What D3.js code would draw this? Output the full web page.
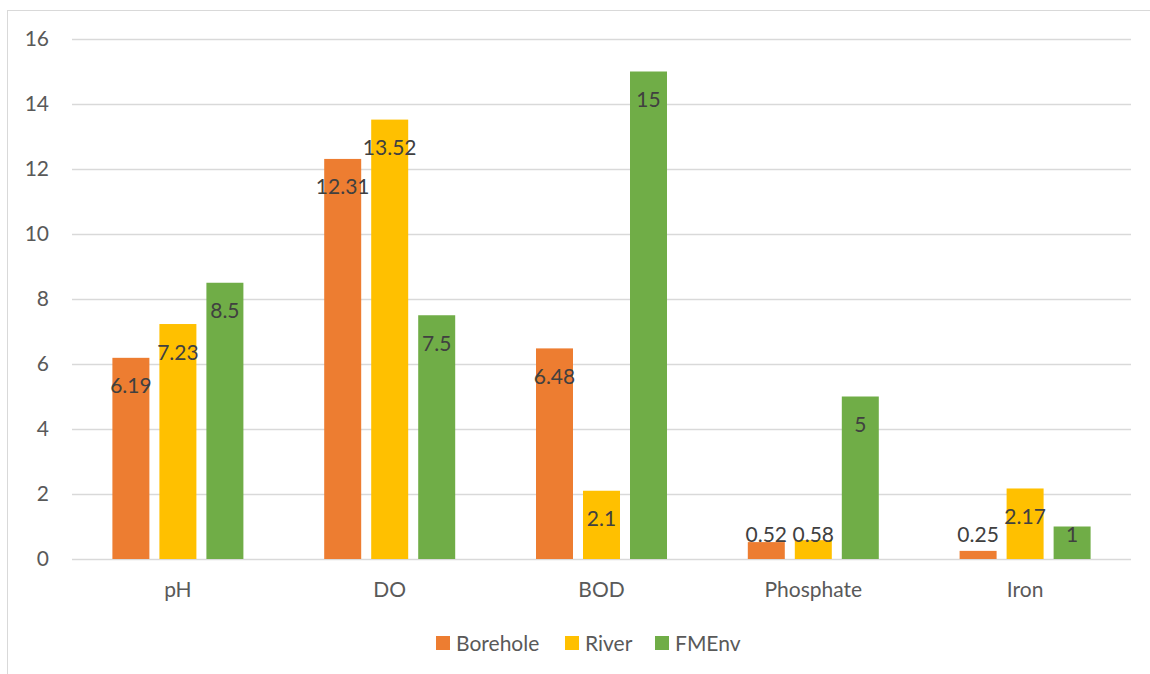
<!DOCTYPE html>
<html>
<head>
<meta charset="utf-8">
<script src="https://cdn.jsdelivr.net/npm/d3@7"></script>
<style>
  html, body { margin: 0; padding: 0; background: #fff; }
  svg { display: block; font-family: Lato, "Open Sans", sans-serif; }
</style>
</head>
<body>
<svg id="chart" width="1150" height="674"></svg>
<script>
// Water quality parameters compared against the FMEnv limits
const categories = ["pH", "DO", "BOD", "Phosphate", "Iron"];
const seriesNames = ["Borehole", "River", "FMEnv"];
const borehole = [6.19, 12.31, 6.48, 0.52, 0.25];
const river = [7.23, 13.52, 2.1, 0.58, 2.17];
const fmenv = [8.5, 7.5, 15, 5, 1];
const yTicks = [0, 2, 4, 6, 8, 10, 12, 14, 16];

const seriesValues = [borehole, river, fmenv];
const colors = ["#ED7D31", "#FFC000", "#70AD47"];

const svg = d3.select("#chart");
const plot = { left: 72, right: 1131, top: 39, bottom: 559 };

// outer frame
svg.append("rect")
  .attr("x", 7.5).attr("y", 10.5)
  .attr("width", 1200).attr("height", 800)
  .attr("fill", "none").attr("stroke", "#d9d9d9").attr("stroke-width", 1);

const y = d3.scaleLinear().domain([0, 16]).range([plot.bottom, plot.top]);
const x0 = d3.scaleBand().domain(categories).range([plot.left, plot.right]).padding(0);
const groupW = 131;
const x1 = d3.scaleBand().domain(seriesNames)
  .range([(x0.bandwidth() - groupW) / 2, (x0.bandwidth() + groupW) / 2])
  .paddingInner(0.213).paddingOuter(0);

// gridlines
svg.append("g").selectAll("line").data(yTicks).join("line")
  .attr("x1", plot.left).attr("x2", plot.right)
  .attr("y1", d => Math.round(y(d)) + 0.5).attr("y2", d => Math.round(y(d)) + 0.5)
  .attr("stroke", "#d9d9d9").attr("stroke-width", 1.5);

// y axis labels
const yAxis = svg.append("g")
  .attr("transform", `translate(49,0)`)
  .call(d3.axisLeft(y).tickValues(yTicks).tickSize(0).tickPadding(0));
yAxis.select(".domain").remove();
yAxis.selectAll("text")
  .attr("font-family", "Lato, sans-serif").attr("font-size", 21).attr("fill", "#595959");

// x axis labels
const xAxis = svg.append("g")
  .attr("transform", `translate(0,${plot.bottom + 23})`)
  .call(d3.axisBottom(x0).tickSize(0).tickPadding(0));
xAxis.select(".domain").remove();
xAxis.selectAll("text")
  .attr("font-family", "Lato, sans-serif").attr("font-size", 21).attr("fill", "#595959");

// bars
const rows = [];
categories.forEach((c, ci) => {
  seriesNames.forEach((s, si) => {
    rows.push({ cat: c, series: s, si, value: seriesValues[si][ci] });
  });
});

const groups = svg.append("g");
groups.selectAll("rect").data(rows).join("rect")
  .attr("x", d => x0(d.cat) + x1(d.series))
  .attr("y", d => y(d.value))
  .attr("width", x1.bandwidth())
  .attr("height", d => y(0) - y(d.value))
  .attr("fill", d => colors[d.si]);

// value labels: inside end, kept clear of the baseline for short bars
groups.selectAll("text").data(rows).join("text")
  .attr("x", d => x0(d.cat) + x1(d.series) + x1.bandwidth() / 2)
  .attr("y", d => Math.min(y(d.value) + 28, y(0) - 25))
  .attr("dy", "0.36em")
  .attr("text-anchor", "middle")
  .attr("font-size", 21)
  .attr("fill", "#404040")
  .text(d => d.value);

// legend
const legendItems = [
  { name: "Borehole", x: 436 },
  { name: "River", x: 565 },
  { name: "FMEnv", x: 655 }
];
const legend = svg.append("g");
legendItems.forEach((item, i) => {
  legend.append("rect")
    .attr("x", item.x).attr("y", 636).attr("width", 14).attr("height", 14)
    .attr("fill", colors[i]);
  legend.append("text")
    .attr("x", item.x + 20).attr("y", 643).attr("dy", "0.36em")
    .attr("font-size", 21).attr("fill", "#595959")
    .text(item.name);
});
</script>
</body>
</html>
